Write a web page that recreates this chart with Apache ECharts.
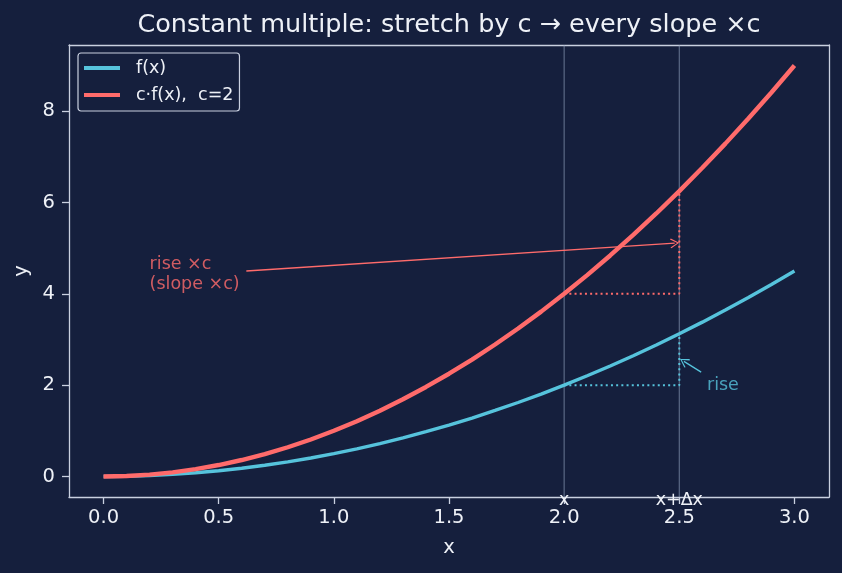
<!DOCTYPE html>
<html>
<head>
<meta charset="utf-8">
<script src="https://cdn.jsdelivr.net/npm/echarts@6/dist/echarts.min.js"></script>
<style>
html,body{margin:0;padding:0;background:#151f3d;}
#chart{width:842px;height:573px;}
</style>
</head>
<body>
<div id="chart"></div>
<script>
// ---- data ----
const xs = [0.0,0.1,0.2,0.3,0.4,0.5,0.6,0.7,0.8,0.9,1.0,1.1,1.2,1.3,1.4,1.5,1.6,1.7,1.8,1.9,2.0,2.1,2.2,2.3,2.4,2.5,2.6,2.7,2.8,2.9,3.0];
const fVals = [0,0.005,0.02,0.045,0.08,0.125,0.18,0.245,0.32,0.405,0.5,0.605,0.72,0.845,0.98,1.125,1.28,1.445,1.62,1.805,2.0,2.205,2.42,2.645,2.88,3.125,3.38,3.645,3.92,4.205,4.5];
const cfVals = [0,0.01,0.04,0.09,0.16,0.25,0.36,0.49,0.64,0.81,1.0,1.21,1.44,1.69,1.96,2.25,2.56,2.89,3.24,3.61,4.0,4.41,4.84,5.29,5.76,6.25,6.76,7.29,7.84,8.41,9.0];
const xTicks = [0.0,0.5,1.0,1.5,2.0,2.5,3.0];
const yTicks = [0,2,4,6,8];
const xRange = [-0.15, 3.15];
const yRange = [-0.45, 9.45];
const markX = [2.0, 2.5];
const markXLabels = ['x', 'x+Δx'];
const fRise = [[2.0,2.0],[2.5,2.0],[2.5,3.125]];
const cfRise = [[2.0,4.0],[2.5,4.0],[2.5,6.25]];
const cfArrow = [[0.62,4.5],[2.48,5.11]];
const fArrow = [[2.595,2.285],[2.52,2.52]];
const cfNote = [0.2, 4.42, 'rise ×c\n(slope ×c)'];
const fNote = [2.62, 2.0, 'rise'];
const seriesNames = ['f(x)', 'c·f(x),  c=2'];

const BG = '#151f3d', FG = '#eef1f7', FRAME = '#c9d0e0';
const CYAN = '#56c3dc', RED = '#ff6b6b', VLINE = 'rgba(150,165,195,0.55)';
const FONT = 'DejaVu Sans';
const TICK_FS = 19.5, NOTE_FS = 17.5;

const chart = echarts.init(document.getElementById('chart'), null, {renderer:'canvas'});
const arrowPath = 'path://M5,0 L10,9 L9,10 L5,2.2 L1,10 L0,9 Z';

function vline(x) {
  return {
    type:'line', data:[[x, yRange[0]],[x, yRange[1]]], symbol:'none', silent:true,
    lineStyle:{color:VLINE, width:1.2}, z:1
  };
}

const option = {
  backgroundColor: BG,
  animation: false,
  textStyle:{fontFamily:FONT},
  title: {
    text: 'Constant multiple: stretch by c → every slope ×c',
    left: 444, top: 7, textAlign:'center',
    textStyle:{color:FG, fontSize:25.5, fontWeight:'normal', fontFamily:FONT}
  },
  legend: {
    data: [
      {name: seriesNames[0], icon:'rect', itemStyle:{color:CYAN}},
      {name: seriesNames[1], icon:'rect', itemStyle:{color:RED}}
    ],
    orient:'vertical', left: 78, top: 53,
    itemWidth: 36, itemHeight: 4, itemGap: 9,
    padding:[6,6,7,6],
    backgroundColor: BG, borderColor: FRAME, borderWidth: 1.2, borderRadius: 3,
    textStyle:{color:FG, fontSize:NOTE_FS, fontFamily:FONT, padding:[0,0,0,11]}
  },
  grid: {left:69, right:13, top:45, bottom:76},
  xAxis: [{
    type:'value', min:xRange[0], max:xRange[1], position:'bottom',
    name:'x', nameLocation:'middle', nameGap:41,
    nameTextStyle:{color:FG, fontSize:TICK_FS, fontFamily:FONT},
    axisLine:{show:true, onZero:false, lineStyle:{color:FRAME, width:1.3}},
    axisTick:{show:true, length:7, customValues:xTicks, lineStyle:{color:FRAME, width:1.3}},
    axisLabel:{color:FG, fontSize:TICK_FS, margin:11, customValues:xTicks, fontFamily:FONT,
      formatter: v => v.toFixed(1)},
    splitLine:{show:false}
  },{
    type:'value', min:xRange[0], max:xRange[1], position:'top',
    axisLine:{show:true, onZero:false, lineStyle:{color:FRAME, width:1.3}},
    axisTick:{show:false}, axisLabel:{show:false}, splitLine:{show:false}
  }],
  yAxis: [{
    type:'value', min:yRange[0], max:yRange[1], position:'left',
    name:'y', nameLocation:'middle', nameGap:35, nameRotate:90,
    nameTextStyle:{color:FG, fontSize:TICK_FS, fontFamily:FONT},
    axisLine:{show:true, onZero:false, lineStyle:{color:FRAME, width:1.3}},
    axisTick:{show:true, length:7, customValues:yTicks, lineStyle:{color:FRAME, width:1.3}},
    axisLabel:{color:FG, fontSize:TICK_FS, margin:14, customValues:yTicks, fontFamily:FONT},
    splitLine:{show:false}
  },{
    type:'value', min:yRange[0], max:yRange[1], position:'right',
    axisLine:{show:true, onZero:false, lineStyle:{color:FRAME, width:1.3}},
    axisTick:{show:false}, axisLabel:{show:false}, splitLine:{show:false}
  }],
  series: [
    vline(markX[0]), vline(markX[1]),
    {
      type:'line', name:'labels', data: markX.map((x,i)=>({value:[x, yRange[0]], label:{formatter:markXLabels[i]}})),
      symbol:'circle', symbolSize:0, lineStyle:{width:0, opacity:0}, silent:true, z:10,
      label:{show:true, position:'inside', color:FG, fontSize:NOTE_FS, fontFamily:FONT, offset:[0,3]}
    },
    {
      type:'line', data:fRise, symbol:'none', silent:true, z:3,
      lineStyle:{color:CYAN, width:2, type:[2,3.2]}
    },
    {
      type:'line', data:cfRise, symbol:'none', silent:true, z:3,
      lineStyle:{color:RED, width:2, type:[2,3.2]}
    },
    {
      type:'line', name:seriesNames[0], data: xs.map((x,i)=>[x, fVals[i]]),
      symbol:'none', lineStyle:{color:CYAN, width:3.4}, itemStyle:{color:CYAN}, z:5
    },
    {
      type:'line', name:seriesNames[1], data: xs.map((x,i)=>[x, cfVals[i]]),
      symbol:'none', lineStyle:{color:RED, width:4.4}, itemStyle:{color:RED}, z:6
    },
    {
      type:'scatter', data:[[cfNote[0], cfNote[1]]], symbolSize:0, silent:true, z:10,
      label:{show:true, position:'right', distance:0, formatter:cfNote[2], color:RED, fontSize:NOTE_FS, lineHeight:20, fontFamily:FONT},
      markLine:{
        silent:true, symbol:['none', arrowPath], symbolSize:[10,9],
        lineStyle:{color:RED, width:1.3, type:'solid'}, label:{show:false},
        data:[[{coord:cfArrow[0]},{coord:cfArrow[1]}]]
      }
    },
    {
      type:'scatter', data:[[fNote[0], fNote[1]]], symbolSize:0, silent:true, z:10,
      label:{show:true, position:'right', distance:0, formatter:fNote[2], color:CYAN, fontSize:NOTE_FS, fontFamily:FONT},
      markLine:{
        silent:true, symbol:['none', arrowPath], symbolSize:[10,9],
        lineStyle:{color:CYAN, width:1.3, type:'solid'}, label:{show:false},
        data:[[{coord:fArrow[0]},{coord:fArrow[1]}]]
      }
    }
  ]
};
chart.setOption(option);
</script>
</body>
</html>
